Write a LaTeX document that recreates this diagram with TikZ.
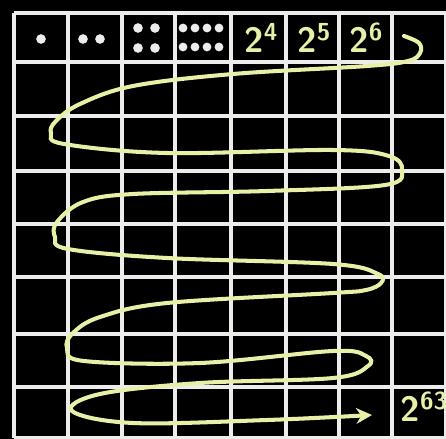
\documentclass[tikz,border=0pt]{standalone}
\usepackage{xcolor}
\usepackage{tikz}
\usetikzlibrary{arrows.meta}
\definecolor{BoardBlack}{HTML}{000000}
\definecolor{ChalkWhite}{HTML}{ECECEA}
\definecolor{ChalkYellow}{HTML}{E8F0A8}
\newcommand{\chalkpow}[1]{2\raisebox{0.75ex}{\fontsize{14}{14}\selectfont #1}}
\tikzset{
  gridline/.style={
    draw=ChalkWhite,
    line width=2.6pt
  },
  grain/.style={
    circle,
    fill=ChalkWhite,
    inner sep=0pt,
    minimum size=5.5pt
  },
  powlabel/.style={
    text=ChalkYellow,
    font=\fontsize{20}{20}\selectfont\sffamily\bfseries,
    inner sep=0pt
  },
  snake/.style={
    draw=ChalkYellow,
    line width=2.3pt,
    line cap=round,
    -{Stealth[length=9pt,width=9pt]}
  }
}

\begin{document}
\begin{tikzpicture}[x=0.02cm, y=-0.02cm]
\useasboundingbox (0,0) rectangle (446,439);
\fill[BoardBlack] (0,0) rectangle (446,439);
% board lines
\foreach \gx in {14,68,122,175,231,286,339,392,446}
  \draw[gridline] (\gx,13) -- (\gx,438);
\foreach \gy in {13,62,116,171,224,277,334,387,438}
  \draw[gridline] (14,\gy) -- (446,\gy);
% grains on the first squares
\node[grain] (g1) at (41,39) {};
\node[grain] (g2a) at (83,39) {};
\node[grain] (g2b) at (100,39) {};
\foreach \dx in {138,155}
  \foreach \dy in {28,48}
    \node[grain] at (\dx,\dy) {};
\foreach \dx in {183,195,207,219}
  \foreach \dy in {28,47}
    \node[grain, minimum size=5pt] at (\dx,\dy) {};
% powers of two
\node[powlabel] (p4) at (261,38) {\chalkpow{4}};
\node[powlabel] (p5) at (314,38) {\chalkpow{5}};
\node[powlabel] (p6) at (366,38) {\chalkpow{6}};
\node[powlabel] (p63) at (424,407) {\chalkpow{63}};
% path over the board
\draw[snake] plot[smooth, tension=0.6] coordinates {
  (404,36) (419,43) (420,53) (408,61) (367,66) (233,74) (133,86)
  (80,104) (56,121) (51,133) (64,144) (167,153) (333,150) (389,156)
  (402,170) (385,185) (267,191) (133,194) (83,202) (57,222) (55,237)
  (68,249) (167,258) (333,264) (378,274) (381,283) (366,290) (333,293)
  (167,303) (100,317) (73,333) (67,348) (84,361) (200,363) (333,351)
  (366,356) (368,366) (333,378) (200,383) (100,394) (72,411) (133,423)
  (267,420) (372,415)};
\end{tikzpicture}
\end{document}
